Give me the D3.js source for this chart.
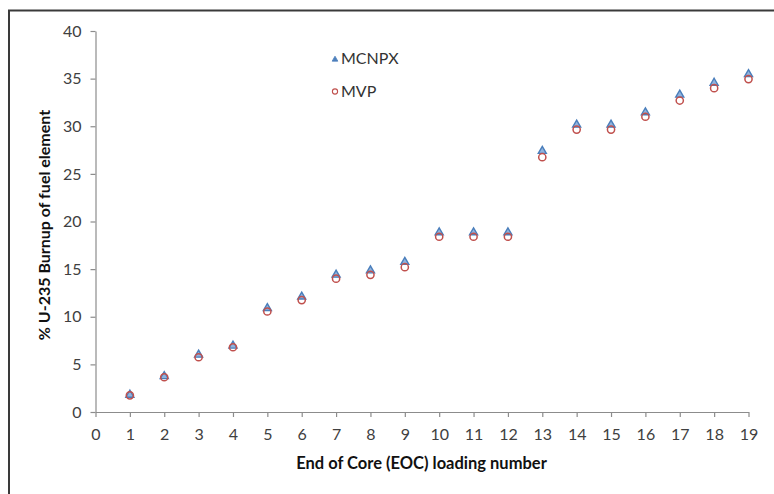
<!DOCTYPE html>
<html>
<head>
<meta charset="utf-8">
<script src="https://cdn.jsdelivr.net/npm/d3@7"></script>
<style>
  html, body { margin: 0; padding: 0; background: #fff; }
  svg { display: block; }
  .tick text { font-family: Lato, "Open Sans", sans-serif; font-size: 16px; fill: #404040; }
  .axis path, .axis line { stroke: #8c8c8c; stroke-width: 1.2; }
</style>
</head>
<body>
<svg id="chart" width="774" height="494"></svg>
<script>
// Loading numbers (End of Core)
const loadings = [1, 2, 3, 4, 5, 6, 7, 8, 9, 10, 11, 12, 13, 14, 15, 16, 17, 18, 19];
// % U-235 burnup per code
const mcnpxBurnup = [1.8, 3.75, 6.0, 6.95, 10.9, 12.1, 14.4, 14.85, 15.75, 18.85, 18.85, 18.85, 27.4, 30.15, 30.15, 31.45, 33.3, 34.55, 35.45];
const mvpBurnup   = [1.75, 3.65, 5.75, 6.8, 10.55, 11.75, 14.0, 14.4, 15.2, 18.4, 18.4, 18.4, 26.75, 29.65, 29.65, 31.0, 32.7, 34.0, 34.95];
// Axis ticks
const xTicks = d3.range(0, 20, 1);
const yTicks = [0, 5, 10, 15, 20, 25, 30, 35, 40];
const seriesNames = ["MCNPX", "MVP"];

const svg = d3.select("#chart");

// outer chart frame
svg.append("rect")
  .attr("x", 9).attr("y", 10.5)
  .attr("width", 800).attr("height", 520)
  .attr("fill", "none")
  .attr("stroke", "#3a3a3a")
  .attr("stroke-width", 2);

const x = d3.scaleLinear().domain([0, 19]).range([95.5, 748.5]);
const y = d3.scaleLinear().domain([0, 40]).range([412, 31]);

// y axis
svg.append("g")
  .attr("class", "axis")
  .attr("transform", `translate(${x(0)},0)`)
  .call(d3.axisLeft(y).tickValues(yTicks).tickSizeInner(5).tickSizeOuter(0).tickPadding(9));

// x axis
svg.append("g")
  .attr("class", "axis")
  .attr("transform", `translate(0,${y(0)})`)
  .call(d3.axisBottom(x).tickValues(xTicks).tickFormat(d3.format("d")).tickSizeInner(5).tickSizeOuter(0).tickPadding(12));

// axis titles
svg.append("text")
  .attr("x", 421.5).attr("y", 468.5)
  .attr("text-anchor", "middle")
  .attr("font-family", "Lato, sans-serif")
  .attr("font-weight", "bold")
  .attr("font-size", 16.5)
  .attr("fill", "#111")
  .text("End of Core (EOC) loading number");

svg.append("text")
  .attr("transform", "translate(50,225) rotate(-90)")
  .attr("text-anchor", "middle")
  .attr("font-family", "Lato, sans-serif")
  .attr("font-weight", "bold")
  .attr("font-size", 16)
  .attr("fill", "#111")
  .text("% U-235 Burnup of fuel element");

const tri = d3.symbol().type(d3.symbolTriangle);

// MCNPX: blue triangles
svg.append("g").selectAll("path")
  .data(loadings.map((l, i) => [l, mcnpxBurnup[i]]))
  .join("path")
  .attr("d", tri.size(28)())
  .attr("transform", d => `translate(${x(d[0])},${y(d[1])})`)
  .attr("fill", "#8fb3de")
  .attr("stroke", "#4a7ebb")
  .attr("stroke-width", 1.4);

// MVP: red open circles
svg.append("g").selectAll("circle")
  .data(loadings.map((l, i) => [l, mvpBurnup[i]]))
  .join("circle")
  .attr("cx", d => x(d[0]))
  .attr("cy", d => y(d[1]))
  .attr("r", 3.6)
  .attr("fill", "none")
  .attr("stroke", "#c0504d")
  .attr("stroke-width", 1.5);

// legend
const legend = svg.append("g");
legend.append("path")
  .attr("d", d3.symbol().type(d3.symbolTriangle).size(14)())
  .attr("transform", "translate(335,59.5)")
  .attr("fill", "#4f81bd")
  .attr("stroke", "#4a7ebb")
  .attr("stroke-width", 0.8);
legend.append("circle")
  .attr("cx", 335).attr("cy", 91.5).attr("r", 2.6)
  .attr("fill", "none")
  .attr("stroke", "#c0504d")
  .attr("stroke-width", 1.1);
legend.selectAll("text")
  .data(seriesNames)
  .join("text")
  .attr("x", 341)
  .attr("y", (d, i) => 64 + i * 33)
  .attr("font-family", "Lato, sans-serif")
  .attr("font-size", 16)
  .attr("fill", "#333")
  .text(d => d);
</script>
</body>
</html>
